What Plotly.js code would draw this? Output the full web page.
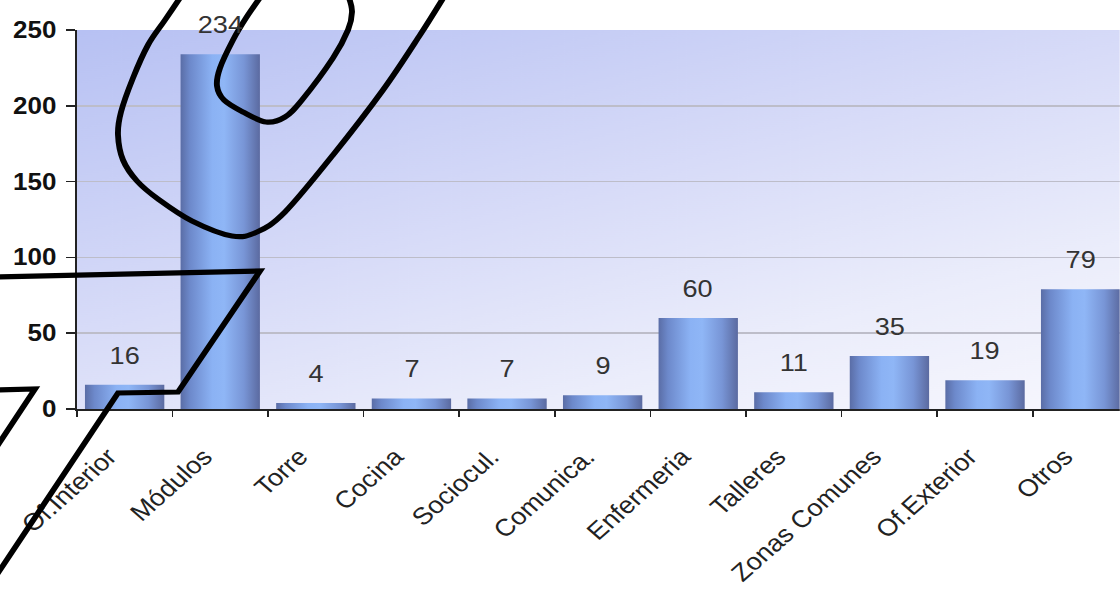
<!DOCTYPE html>
<html>
<head>
<meta charset="utf-8">
<script src="https://cdn.plot.ly/plotly-3.0.1.min.js"></script>
<style>
  html, body { margin: 0; padding: 0; background: #ffffff; overflow: hidden; }
  #chart { width: 991px; height: 590px; transform: scaleX(1.13); transform-origin: 0 0; }
</style>
</head>
<body>
<div id="chart"></div>
<script>
// ---- data ----
const categories = ['Of.Interior', 'Módulos', 'Torre', 'Cocina', 'Sociocul.', 'Comunica.',
                    'Enfermeria', 'Talleres', 'Zonas Comunes', 'Of.Exterior', 'Otros'];
const values = [16, 234, 4, 7, 7, 9, 60, 11, 35, 19, 79];
const yTicks = [0, 50, 100, 150, 200, 250];

// ---- geometry (unscaled layout; page is stretched horizontally by S) ----
const S = 1.13;
const W0 = 991, H0 = 590;
const ML = 68, MR = 0, MT = 30, MB = 181;
const PW = W0 - ML - MR, PH = H0 - MT - MB;

// background gradient image for plot area
function bgImage() {
  const c = document.createElement('canvas');
  c.width = 923; c.height = 379;
  const g = c.getContext('2d');
  const lg = g.createLinearGradient(0, 0, 188, 607);
  lg.addColorStop(0, '#b7c1f3');
  lg.addColorStop(0.45, '#d7dbf8');
  lg.addColorStop(0.75, '#ebedfb');
  lg.addColorStop(1, '#f7f7fe');
  g.fillStyle = lg;
  g.fillRect(0, 0, c.width, c.height);
  return c.toDataURL('image/png');
}

// hand-drawn marker strokes (final-picture pixel coords -> paper coords)
function toPaper(p) { return [(p[0] / S - ML) / PW, (MT + PH - p[1]) / PH]; }
function smoothPath(pts) {
  const q = pts.map(toPaper);
  let d = 'M' + q[0][0] + ',' + q[0][1];
  for (let i = 0; i < q.length - 1; i++) {
    const p0 = q[Math.max(i - 1, 0)], p1 = q[i], p2 = q[i + 1], p3 = q[Math.min(i + 2, q.length - 1)];
    const c1 = [p1[0] + (p2[0] - p0[0]) / 6, p1[1] + (p2[1] - p0[1]) / 6];
    const c2 = [p2[0] - (p3[0] - p1[0]) / 6, p2[1] - (p3[1] - p1[1]) / 6];
    d += ' C' + c1[0] + ',' + c1[1] + ' ' + c2[0] + ',' + c2[1] + ' ' + p2[0] + ',' + p2[1];
  }
  return d;
}
function polyPath(pts) {
  return pts.map(toPaper).map((p, i) => (i ? 'L' : 'M') + p[0] + ',' + p[1]).join(' ');
}
const outerLoop = [[184,-8],[165,20],[148,45],[133,78],[121,112],[118,135],[123,160],[137,181],[158,199],[192,221],[232,236],[257,232],[285,212],[333,155],[383,90],[420,35],[447,-8]];
const innerLoop = [[264,-8],[246,18],[233,40],[220,68],[217,86],[224,100],[243,112],[266,122],[285,117],[302,100],[333,58],[348,30],[352,12],[349,-2],[344,-10]];
const lineA = [[-8,277],[260,271],[178,392],[118,393],[-8,582]];
const lineB = [[-8,390],[35,389],[-8,454]];
const penLine = { color: '#000000', width: 5.2 };
const shapes = [
  { type: 'path', xref: 'paper', yref: 'paper', path: smoothPath(outerLoop), line: penLine, layer: 'above' },
  { type: 'path', xref: 'paper', yref: 'paper', path: smoothPath(innerLoop), line: penLine, layer: 'above' },
  { type: 'path', xref: 'paper', yref: 'paper', path: polyPath(lineA), line: penLine, layer: 'above' },
  { type: 'path', xref: 'paper', yref: 'paper', path: polyPath(lineB), line: penLine, layer: 'above' }
];

const trace = {
  type: 'bar',
  x: categories,
  y: values,
  marker: { color: '#7d9ee0', line: { width: 0 } },
  hoverinfo: 'none'
};

const annotations = categories.map((c, i) => ({
  x: c, y: values[i], xref: 'x', yref: 'y',
  text: String(values[i]), showarrow: false,
  yanchor: 'bottom', yshift: 14,
  font: { family: 'Liberation Sans, Arial, sans-serif', size: 24, color: '#333333' }
}));

const layout = {
  width: W0, height: H0,
  margin: { l: ML, r: MR, t: MT, b: MB, pad: 0 },
  paper_bgcolor: '#ffffff',
  plot_bgcolor: 'rgba(0,0,0,0)',
  showlegend: false,
  bargap: 0.17,
  xaxis: {
    type: 'category',
    range: [-0.5, 10.41],
    tickson: 'boundaries',
    ticks: 'outside', ticklen: 6, tickwidth: 1.5, tickcolor: '#222222',
    showline: true, linecolor: '#222222', linewidth: 2,
    showgrid: false,
    tickangle: -45,
    ticksuffix: '\u00a0\u00a0\u00a0',
    ticklabelstandoff: 8,
    tickfont: { family: 'Liberation Sans, Arial, sans-serif', size: 24, color: '#222222' },
    fixedrange: true
  },
  yaxis: {
    range: [0, 250],
    tickvals: yTicks,
    ticks: 'outside', ticklen: 8, tickwidth: 1.5, tickcolor: '#222222',
    showline: true, linecolor: '#222222', linewidth: 1.5,
    showgrid: true, gridcolor: '#bdbdc9', gridwidth: 1.5,
    zeroline: false,
    ticklabelstandoff: 4,
    tickfont: { family: 'Liberation Sans, Arial, sans-serif', size: 23, color: '#111111', weight: 'bold' },
    fixedrange: true
  },
  images: [{
    source: bgImage(), xref: 'paper', yref: 'paper',
    x: 0, y: 1, sizex: 1, sizey: 1, sizing: 'stretch',
    xanchor: 'left', yanchor: 'top', layer: 'below'
  }],
  annotations: annotations,
  shapes: shapes
};

Plotly.newPlot('chart', [trace], layout, { displayModeBar: false, staticPlot: true }).then(function (gd) {
  // cylinder-like horizontal shading on each bar
  const svg = gd.querySelector('.main-svg');
  const ns = 'http://www.w3.org/2000/svg';
  let defs = svg.querySelector('defs');
  if (!defs) { defs = document.createElementNS(ns, 'defs'); svg.insertBefore(defs, svg.firstChild); }
  const lg = document.createElementNS(ns, 'linearGradient');
  lg.setAttribute('id', 'barShade');
  lg.setAttribute('x1', '0'); lg.setAttribute('x2', '1');
  lg.setAttribute('y1', '0'); lg.setAttribute('y2', '0');
  [['0', '#5a6da6'], ['0.12', '#6d89cb'], ['0.4', '#8bb2f4'], ['0.55', '#8fb6f6'], ['0.8', '#7895d6'], ['1', '#5b6aa0']].forEach(function (s) {
    const st = document.createElementNS(ns, 'stop');
    st.setAttribute('offset', s[0]); st.setAttribute('stop-color', s[1]);
    lg.appendChild(st);
  });
  defs.appendChild(lg);
  gd.querySelectorAll('.barlayer .point path').forEach(function (p) {
    p.style.fill = 'url(#barShade)';
  });
});
</script>
</body>
</html>
